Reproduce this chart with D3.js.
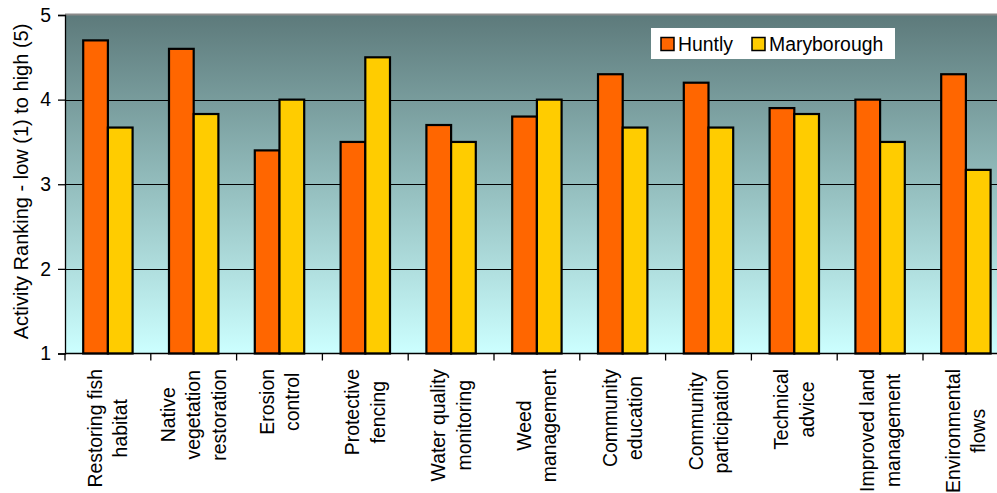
<!DOCTYPE html>
<html>
<head>
<meta charset="utf-8">
<script src="https://cdn.jsdelivr.net/npm/d3@7"></script>
<style>
  html, body { margin: 0; padding: 0; background: #fff; }
  svg { display: block; font-family: "Liberation Sans", Arial, sans-serif; }
</style>
</head>
<body>
<svg id="chart" width="997" height="493"></svg>
<script>
// Activity rankings by town
const categories = [
  ["Restoring fish", "habitat"],
  ["Native", "vegetation", "restoration"],
  ["Erosion", "control"],
  ["Protective", "fencing"],
  ["Water quality", "monitoring"],
  ["Weed", "management"],
  ["Community", "education"],
  ["Community", "participation"],
  ["Technical", "advice"],
  ["Improved land", "management"],
  ["Environmental", "flows"]
];
const seriesNames = ["Huntly", "Maryborough"];
const huntly      = [4.7, 4.6, 3.4, 3.5, 3.7, 3.8, 4.3, 4.2, 3.9, 4.0, 4.3];
const maryborough = [3.67, 3.83, 4.0, 4.5, 3.5, 4.0, 3.67, 3.67, 3.83, 3.5, 3.17];
const yTicks = [1, 2, 3, 4, 5];
const colors = ["#FF6600", "#FFCC00"];
const yTitle = "Activity Ranking - low (1) to high (5)";

const svg = d3.select("#chart");
const plotLeft = 65, plotTop = 15, plotBottom = 353.5;
const step = 85.8;
const plotRight = plotLeft + step * categories.length;
const fontSize = 19.4;

const keys = categories.map((c, i) => i);
const x0 = d3.scaleBand().domain(keys).range([plotLeft, plotRight]).padding(0);
const x1 = d3.scaleBand().domain(seriesNames).range([0, x0.bandwidth()])
  .paddingInner(0).paddingOuter(0.737);
const y = d3.scaleLinear().domain([1, 5]).range([plotBottom, plotTop]);

// plot background gradient
const defs = svg.append("defs");
const grad = defs.append("linearGradient").attr("id", "bg")
  .attr("x1", 0).attr("y1", 0).attr("x2", 0).attr("y2", 1);
grad.append("stop").attr("offset", "0%").attr("stop-color", "#5D7A7B");
grad.append("stop").attr("offset", "50%").attr("stop-color", "#93BDBD");
grad.append("stop").attr("offset", "100%").attr("stop-color", "#CCFFFF");

svg.append("rect")
  .attr("x", plotLeft).attr("y", plotTop)
  .attr("width", plotRight - plotLeft).attr("height", plotBottom - plotTop)
  .attr("fill", "url(#bg)");

// top edge of the plot area
svg.append("line")
  .attr("x1", plotLeft).attr("x2", plotRight).attr("y1", plotTop - 0.5).attr("y2", plotTop - 0.5)
  .attr("stroke", "#8a8a8a").attr("stroke-width", 2);

// gridlines
svg.append("g").selectAll("line")
  .data(yTicks.filter(t => t > 1 && t < 5))
  .join("line")
  .attr("x1", plotLeft).attr("x2", plotRight)
  .attr("y1", d => Math.round(y(d)) + 0.5).attr("y2", d => Math.round(y(d)) + 0.5)
  .attr("stroke", "#000").attr("stroke-width", 1);

// bars
const data = keys.map(i => ({ i, values: [huntly[i], maryborough[i]] }));
const groups = svg.append("g").selectAll("g")
  .data(data).join("g")
  .attr("transform", d => `translate(${x0(d.i)},0)`);
groups.selectAll("rect")
  .data(d => d.values.map((v, k) => ({ key: seriesNames[k], v, k })))
  .join("rect")
  .attr("x", d => x1(d.key))
  .attr("y", d => y(d.v))
  .attr("width", x1.bandwidth())
  .attr("height", d => plotBottom - y(d.v))
  .attr("fill", d => colors[d.k])
  .attr("stroke", "#000")
  .attr("stroke-width", 2.2);

// y axis
const yAxis = d3.axisLeft(y).tickValues(yTicks).tickSize(7).tickPadding(7)
  .tickFormat(d3.format("d"));
const gy = svg.append("g").attr("transform", `translate(${plotLeft},0)`).call(yAxis);
gy.select(".domain").attr("stroke", "#000").attr("stroke-width", 1.3);
gy.selectAll(".tick line").attr("stroke", "#000").attr("stroke-width", 1.3);
gy.selectAll(".tick text").attr("font-size", fontSize).attr("fill", "#000")
  .attr("font-family", "Liberation Sans, Arial, sans-serif");

// x axis line and category boundary ticks
svg.append("line")
  .attr("x1", plotLeft).attr("x2", plotRight).attr("y1", plotBottom).attr("y2", plotBottom)
  .attr("stroke", "#000").attr("stroke-width", 1.3);
svg.append("g").selectAll("line")
  .data(keys)
  .join("line")
  .attr("x1", d => x0(d)).attr("x2", d => x0(d))
  .attr("y1", plotBottom).attr("y2", plotBottom + 7)
  .attr("stroke", "#000").attr("stroke-width", 1.3);

// rotated category labels: block aligned at the top, lines centred within it
const lineGap = 25.3;
const labelTop = 369;
const labelG = svg.append("g");
categories.forEach((lines, i) => {
  const cx = x0(i) + x0.bandwidth() / 2;
  const g = labelG.append("g");
  const texts = lines.map((s, j) => g.append("text")
    .attr("font-size", fontSize)
    .attr("text-anchor", "middle")
    .attr("fill", "#000")
    .text(s));
  const maxLen = d3.max(texts, t => t.node().getComputedTextLength());
  const n = lines.length;
  texts.forEach((t, j) => {
    const lx = cx + (j - (n - 1) / 2) * lineGap + fontSize * 0.35;
    const ly = labelTop + maxLen / 2;
    t.attr("transform", `translate(${lx},${ly}) rotate(-90)`);
  });
});

// y axis title
svg.append("text")
  .attr("transform", `translate(27.5,181.5) rotate(-90)`)
  .attr("text-anchor", "middle")
  .attr("font-size", 20)
  .attr("fill", "#000")
  .text(yTitle);

// legend
const legend = svg.append("g");
legend.append("rect")
  .attr("x", 651).attr("y", 28).attr("width", 244).attr("height", 31)
  .attr("fill", "#fff");
const legendX = [661, 752];
seriesNames.forEach((name, k) => {
  legend.append("rect")
    .attr("x", legendX[k]).attr("y", 37.5).attr("width", 13).attr("height", 13)
    .attr("fill", colors[k]).attr("stroke", "#000").attr("stroke-width", 1.5);
  legend.append("text")
    .attr("x", legendX[k] + 17).attr("y", 50.5)
    .attr("font-size", fontSize).attr("fill", "#000")
    .text(name);
});
</script>
</body>
</html>
